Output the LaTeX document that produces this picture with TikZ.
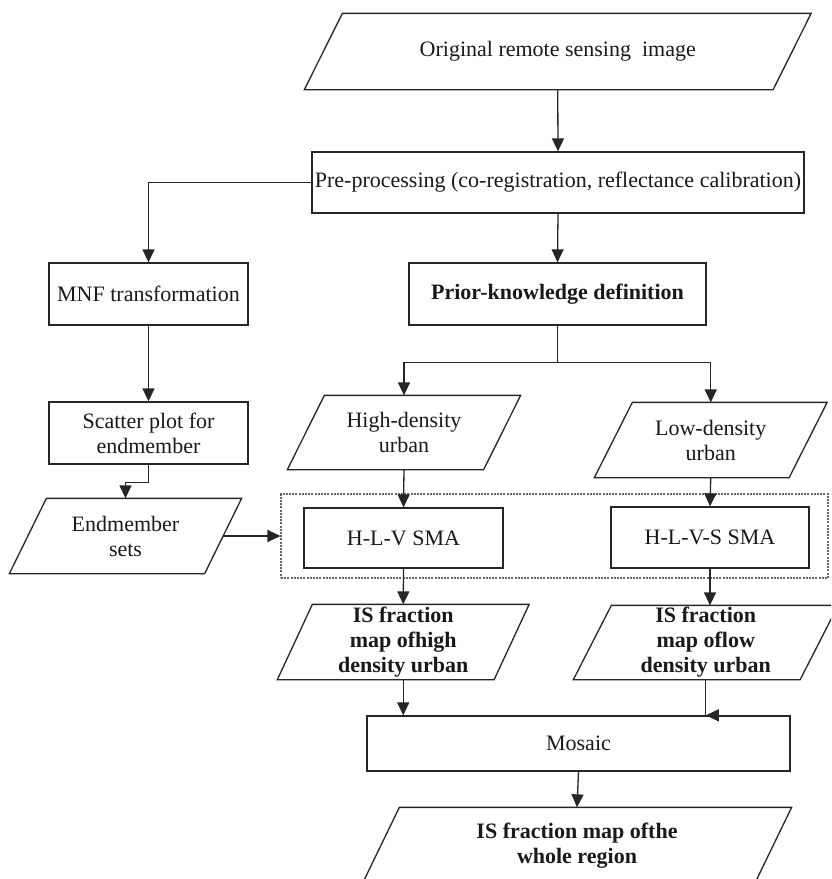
\documentclass[tikz,border=0pt]{standalone}
\usepackage{fontspec}
\setmainfont{Liberation Serif}
\usetikzlibrary{arrows.meta}
\newcommand\drawpara[2]{\draw[paraline] ([xshift=#2pt]#1.north west) -- ([xshift=#2pt]#1.north east) -- ([xshift=-#2pt]#1.south east) -- ([xshift=-#2pt]#1.south west) -- cycle;}
\begin{document}
\begin{tikzpicture}[x=1pt,y=-1pt,
  line width=1.3pt,
  font=\fontsize{22}{25}\selectfont,
  every node/.style={text=black!90},
  rectbox/.style={draw=black!85, line width=1.3pt, inner sep=0pt, align=center},
  parabox/.style={inner sep=0pt, align=center},
  paraline/.style={draw=black!85, line width=1.3pt},
  arr/.style={draw=black!85, -{Triangle[length=13pt,width=12pt]}},
  conn/.style={draw=black!85},
  dbox/.style={draw=black!60, line width=1.1pt, dash pattern=on 2pt off 1.2pt, inner sep=0pt}]
\clip (0,0) rectangle (831,879);
\useasboundingbox (0,0) rectangle (831,879);

% nodes
\node[parabox, minimum width=467.5pt, minimum height=75pt] (orig) at (557.75,51.5) {Original remote sensing\ \ image};
\drawpara{orig}{19}
\node[rectbox, minimum width=492pt, minimum height=61pt] (pre) at (558,182.5) {Pre-processing (co-registration, reflectance calibration)};
\node[rectbox, minimum width=199pt, minimum height=62pt] (mnf) at (148.5,294) {MNF transformation};
\node[rectbox, minimum width=297pt, minimum height=62pt, font=\fontsize{22}{25}\selectfont\bfseries] (prior) at (557.5,294) {Prior-knowledge definition};
\node[parabox, minimum width=195pt, minimum height=73pt] (high) at (404,432.5) {High-density\\urban};
\drawpara{high}{18.5}
\node[parabox, minimum width=193.5pt, minimum height=74pt] (low) at (710.75,440) {Low-density\\urban};
\drawpara{low}{19}
\node[rectbox, minimum width=199pt, minimum height=62pt] (scatter) at (148.5,433) {Scatter plot for\\endmember};
\node[parabox, minimum width=194pt, minimum height=74pt] (endm) at (125.5,536) {Endmember\\sets};
\drawpara{endm}{18.5}
\node[dbox, minimum width=547pt, minimum height=84pt] (dash) at (554.5,536) {};
\node[rectbox, minimum width=199pt, minimum height=60pt] (hlv) at (403.5,538) {H-L-V SMA};
\node[rectbox, minimum width=198pt, minimum height=61pt] (hlvs) at (710,537.5) {H-L-V-S SMA};
\node[parabox, minimum width=215.5pt, minimum height=74pt, font=\fontsize{22}{25}\selectfont\bfseries] (ishigh) at (403.25,642) {IS fraction\\map ofhigh\\density urban};
\drawpara{ishigh}{17.5}
\node[parabox, minimum width=225.5pt, minimum height=73pt, font=\fontsize{22}{25}\selectfont\bfseries] (islow) at (705.75,642.5) {IS fraction\\map oflow\\density urban};
\drawpara{islow}{19}
\node[rectbox, minimum width=423pt, minimum height=55pt] (mosaic) at (578.5,743.5) {Mosaic};
\node[parabox, minimum width=391pt, minimum height=75pt, font=\fontsize{22}{25}\selectfont\bfseries] (final) at (577,845.5) {IS fraction map ofthe\\whole region};
\drawpara{final}{18.5}

% connectors
\draw[arr] (orig.south) -- (pre.north);
\draw[arr] (pre.west) -| (mnf.north);
\draw[arr] (pre.south) -- (prior.north);
\draw[arr] (mnf.south) -- (scatter.north);
\draw[arr] (scatter.south) -- ++(0,18) -| (endm.north);
\draw[conn] (prior.south) -- ++(0,37) coordinate (br);
\draw[arr] (br) -| (high.north);
\draw[arr] (br) -| (low.north);
\draw[arr] (high.south) -- (hlv.north);
\draw[arr] (low.south) -- (hlvs.north);
\draw[arr] (endm.east) -- (dash.west);
\draw[arr] (hlv.south) -- (ishigh.north);
\draw[arr] (hlvs.south) -- (hlvs.south |- islow.north);
\draw[arr] (ishigh.south) -- (ishigh.south |- mosaic.north);
\draw[conn] (islow.south) -- (islow.south |- mosaic.north) coordinate (lowin);
\draw[arr] ([xshift=12pt]lowin) -- (lowin);
\draw[arr] (mosaic.south) -- (final.north);
\end{tikzpicture}
\end{document}
